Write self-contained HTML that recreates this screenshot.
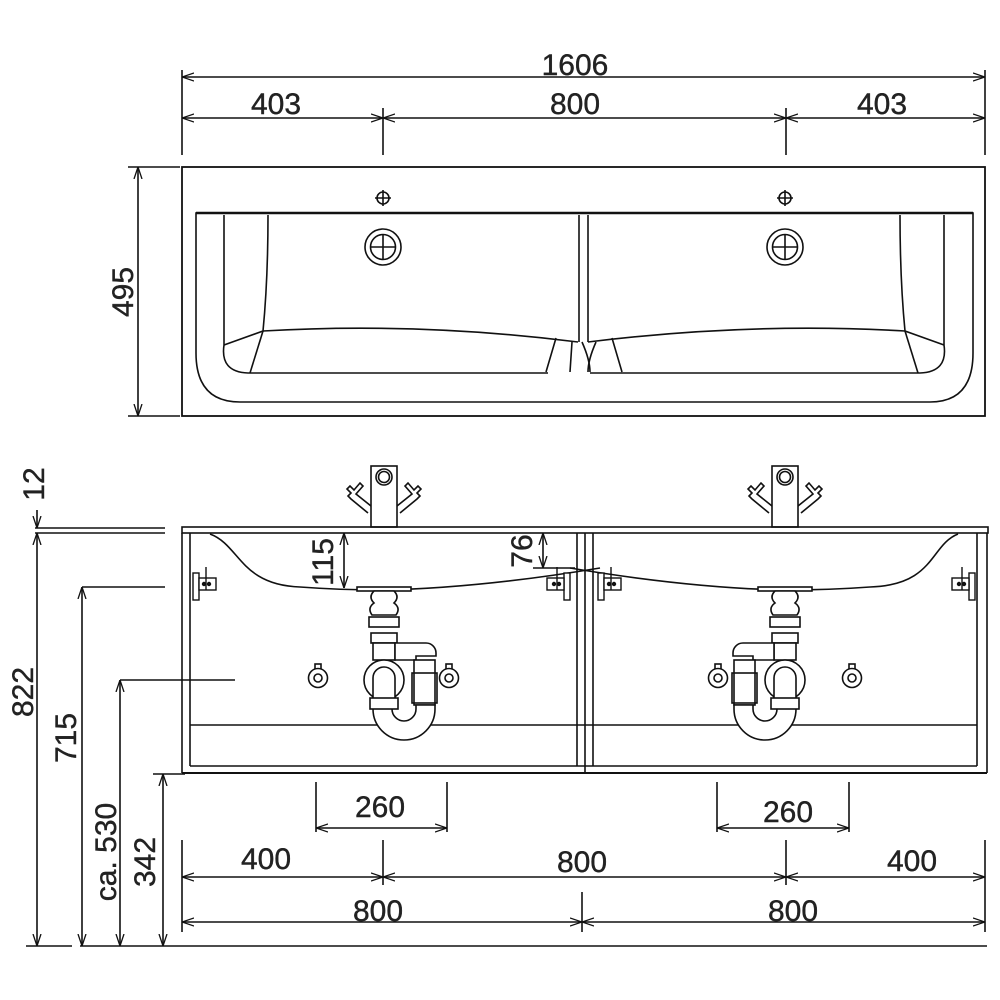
<!DOCTYPE html>
<html><head><meta charset="utf-8"><style>
html,body{margin:0;padding:0;background:#fff}
svg{display:block}
text{font-family:"Liberation Sans Narrow","Liberation Sans",sans-serif;font-size:30px;fill:#222;stroke:#222;stroke-width:0.4}
</style></head><body>
<svg width="1000" height="1000" viewBox="0 0 1000 1000" xmlns="http://www.w3.org/2000/svg">
<defs>
<marker id="a" viewBox="0 0 12 10" refX="12" refY="5" markerWidth="12" markerHeight="10" orient="auto-start-reverse" markerUnits="userSpaceOnUse">
<path d="M0,1 L12,5 L0,9" fill="none" stroke="#111" stroke-width="1.3"/>
</marker>
<g id="trap" fill="#fff" stroke="#111" stroke-width="1.6">
<rect x="-27" y="587" width="54" height="4"/>
<path d="M-10,591 h20 q6,6 0,12 q7,5 2,12 h-24 q-5,-7 2,-12 q-6,-6 0,-12z"/>
<rect x="-15" y="617" width="30" height="10"/>
<rect x="-13" y="633" width="26" height="10"/>
<rect x="-11" y="643" width="22" height="17"/>
<path d="M11,643 h31 a10,10 0 0 1 10,10 v3 h-20 v4 h-21z"/>
<rect x="30" y="660" width="21" height="45"/>
<rect x="28" y="673" width="25" height="30" fill="none"/>
<path d="M51,705 v4 a31,31 0 0 1 -62,0 v-4 h19 v4 a12,12 0 0 0 24,0 v-4z"/>
<circle cx="0" cy="680" r="20"/>
<path d="M-11,700 v-22 a11,11 0 0 1 22,0 v22" />
<rect x="-14" y="698" width="28" height="11"/>
</g>
<g id="hook" fill="#fff" stroke="#111" stroke-width="1.6">
<rect x="-3" y="664" width="6" height="6"/>
<circle cx="0" cy="678" r="9.5"/>
<circle cx="0" cy="678" r="4"/>
</g>
<g id="brk" fill="#fff" stroke="#111" stroke-width="1.4">
<rect x="0" y="573" width="6" height="27"/>
<rect x="6" y="578" width="17" height="12"/>
<circle cx="11" cy="584" r="1.5" fill="#111"/><circle cx="16" cy="584" r="1.5" fill="#111"/>
<line x1="13" y1="567" x2="13" y2="590"/>
</g>
<g id="fauc" fill="#fff" stroke="#111" stroke-width="1.6">
<path d="M-13,506 l-15,-12 l7,-8 l-3,-3 l-6,7 l-4,-4 l-3,3 l4,4 l-3,3 l3,3 l17,14" fill="none"/>
<path d="M13,506 l15,-12 l-7,-8 l3,-3 l6,7 l4,-4 l3,3 l-4,4 l3,3 l-3,3 l-17,14" fill="none"/>
<rect x="-13" y="466" width="26" height="61"/>
<circle cx="0" cy="477" r="8"/><circle cx="0" cy="477" r="5.5"/>
</g>
</defs>

<g fill="none" stroke="#111" stroke-width="1.6">
<line x1="182" y1="70" x2="182" y2="155"/><line x1="985" y1="70" x2="985" y2="155"/>
<line x1="383" y1="108" x2="383" y2="155"/><line x1="786" y1="108" x2="786" y2="155"/>
<line x1="182" y1="77" x2="985" y2="77" marker-start="url(#a)" marker-end="url(#a)"/>
<line x1="182" y1="118" x2="383" y2="118" marker-start="url(#a)" marker-end="url(#a)"/>
<line x1="383" y1="118" x2="786" y2="118" marker-start="url(#a)" marker-end="url(#a)"/>
<line x1="786" y1="118" x2="985" y2="118" marker-start="url(#a)" marker-end="url(#a)"/>
<line x1="138" y1="167" x2="138" y2="416" marker-start="url(#a)" marker-end="url(#a)"/>
<line x1="128" y1="167" x2="180" y2="167"/><line x1="128" y1="416" x2="180" y2="416"/>

<rect x="182" y="167" width="803" height="249" stroke-width="1.8"/>
<path d="M196,213 H973 V353 Q973,402 930,402 H240 Q196,402 196,353 Z" stroke-width="1.6"/>
<line x1="196" y1="213" x2="973" y2="213" stroke-width="2.4"/>
<path d="M224,215 V345 Q220,372 248,373 H548"/>
<path d="M224,345 L263,331 Q268,280 268,215"/>
<path d="M263,331 L250,373"/>
<path d="M263,331 Q420,322 578,342"/>
<path d="M556,338 L546,372 M572,342 L570,372 M582,342 Q590,360 590,372"/>
<line x1="579" y1="215" x2="579" y2="342"/><line x1="588" y1="215" x2="588" y2="342"/>
<path d="M944,215 V345 Q948,372 920,373 H590"/>
<path d="M944,345 L905,331 Q900,280 900,215"/>
<path d="M905,331 L918,373"/>
<path d="M905,331 Q750,322 588,342"/>
<path d="M612,338 L622,372 M596,342 Q588,360 588,372"/>
<circle cx="383" cy="198" r="6"/><path d="M375,198 h16 M383,190 v16"/>
<circle cx="383" cy="247" r="18"/><circle cx="383" cy="247" r="12.5"/><path d="M370,247 h26 M383,234 v26"/>
<circle cx="785" cy="198" r="6"/><path d="M777,198 h16 M785,190 v16"/>
<circle cx="785" cy="247" r="18"/><circle cx="785" cy="247" r="12.5"/><path d="M772,247 h26 M785,234 v26"/>
</g>

<use href="#fauc" x="384"/><use href="#fauc" x="785"/>
<g fill="none" stroke="#111" stroke-width="1.6">
<rect x="182" y="527" width="806" height="6"/>
<line x1="182" y1="533" x2="182" y2="773"/><line x1="190" y1="533" x2="190" y2="766"/>
<line x1="987" y1="533" x2="987" y2="773"/><line x1="977" y1="533" x2="977" y2="766"/>
<line x1="577" y1="533" x2="577" y2="766"/><line x1="585" y1="533" x2="585" y2="773"/><line x1="593" y1="533" x2="593" y2="766"/>
<line x1="182" y1="773" x2="987" y2="773" stroke-width="2"/>
<line x1="190" y1="766" x2="977" y2="766"/>
<line x1="190" y1="725" x2="977" y2="725"/>
<path d="M210,534 C240,545 240,585 300,587 Q340,590 384,590 Q480,588 600,568"/>
<path d="M958,534 C930,545 935,585 870,587 Q830,590 785,590 Q690,588 570,568"/>
</g>
<use href="#brk" x="193"/><use href="#brk" transform="translate(975,0) scale(-1,1)"/>
<use href="#brk" transform="translate(570,0) scale(-1,1)"/><use href="#brk" x="598"/>
<use href="#hook" x="318"/><use href="#hook" x="449"/><use href="#hook" x="718"/><use href="#hook" x="852"/>
<use href="#trap" x="384"/>
<use href="#trap" transform="translate(785,0) scale(-1,1)"/>

<g fill="none" stroke="#111" stroke-width="1.6">
<line x1="344" y1="533" x2="344" y2="588" marker-start="url(#a)" marker-end="url(#a)"/>
<line x1="543" y1="533" x2="543" y2="568" marker-start="url(#a)" marker-end="url(#a)"/>
<line x1="533" y1="568" x2="575" y2="568"/>
<line x1="35" y1="528" x2="165" y2="528"/><line x1="35" y1="533" x2="165" y2="533"/>
<line x1="37" y1="510" x2="37" y2="528" marker-end="url(#a)"/>
<line x1="37" y1="533" x2="37" y2="946" marker-start="url(#a)" marker-end="url(#a)"/>
<line x1="82" y1="587" x2="165" y2="587"/>
<line x1="82" y1="587" x2="82" y2="946" marker-start="url(#a)" marker-end="url(#a)"/>
<line x1="120" y1="680" x2="235" y2="680"/>
<line x1="120" y1="680" x2="120" y2="946" marker-start="url(#a)" marker-end="url(#a)"/>
<line x1="153" y1="774" x2="185" y2="774"/>
<line x1="163" y1="774" x2="163" y2="946" marker-start="url(#a)" marker-end="url(#a)"/>
<line x1="26" y1="946" x2="72" y2="946"/><line x1="80" y1="946" x2="987" y2="946"/>
<line x1="316" y1="782" x2="316" y2="832"/><line x1="447" y1="782" x2="447" y2="832"/>
<line x1="316" y1="828" x2="447" y2="828" marker-start="url(#a)" marker-end="url(#a)"/>
<line x1="717" y1="782" x2="717" y2="832"/><line x1="849" y1="782" x2="849" y2="832"/>
<line x1="717" y1="828" x2="849" y2="828" marker-start="url(#a)" marker-end="url(#a)"/>
<line x1="182" y1="840" x2="182" y2="932"/><line x1="985" y1="840" x2="985" y2="932"/>
<line x1="383" y1="840" x2="383" y2="885"/><line x1="786" y1="840" x2="786" y2="885"/>
<line x1="582" y1="892" x2="582" y2="932"/>
<line x1="182" y1="877" x2="383" y2="877" marker-start="url(#a)" marker-end="url(#a)"/>
<line x1="383" y1="877" x2="786" y2="877" marker-start="url(#a)" marker-end="url(#a)"/>
<line x1="786" y1="877" x2="985" y2="877" marker-start="url(#a)" marker-end="url(#a)"/>
<line x1="182" y1="922" x2="582" y2="922" marker-start="url(#a)" marker-end="url(#a)"/>
<line x1="582" y1="922" x2="985" y2="922" marker-start="url(#a)" marker-end="url(#a)"/>
</g>

<g text-anchor="middle">
<text x="575" y="75">1606</text>
<text x="276" y="114">403</text>
<text x="575" y="114">800</text>
<text x="882" y="114">403</text>
<text transform="translate(133,292) rotate(-90)">495</text>
<text transform="translate(44,484) rotate(-90)">12</text>
<text transform="translate(33,692) rotate(-90)">822</text>
<text transform="translate(76,738) rotate(-90)">715</text>
<text transform="translate(116,852) rotate(-90)">ca. 530</text>
<text transform="translate(155,862) rotate(-90)">342</text>
<text transform="translate(333,562) rotate(-90)">115</text>
<text transform="translate(532,551) rotate(-90)">76</text>
<text x="380" y="817">260</text>
<text x="788" y="822">260</text>
<text x="266" y="869">400</text>
<text x="582" y="872">800</text>
<text x="912" y="871">400</text>
<text x="378" y="921">800</text>
<text x="793" y="921">800</text>
</g>
</svg>
</body></html>
